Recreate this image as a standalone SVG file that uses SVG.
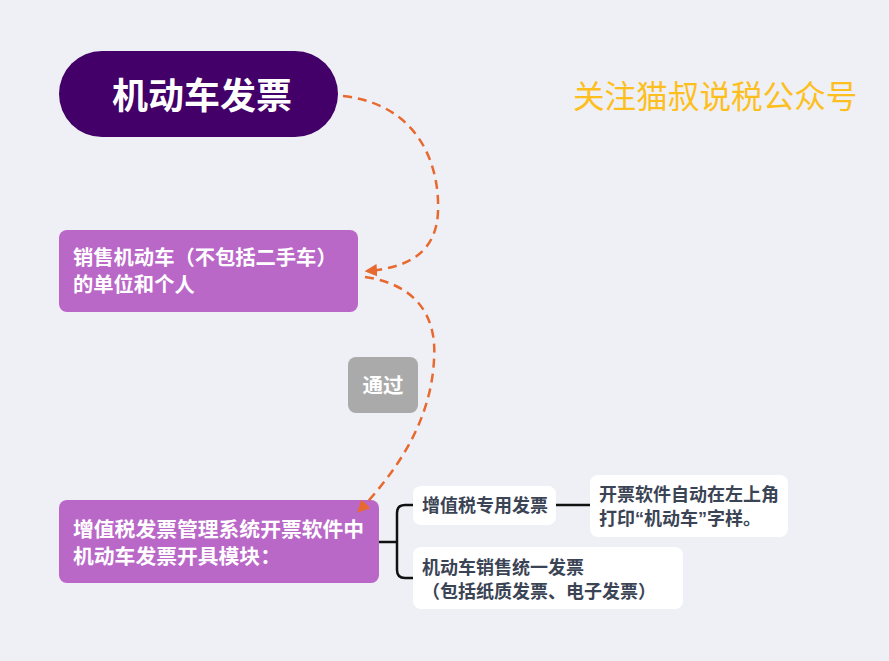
<svg xmlns="http://www.w3.org/2000/svg" width="889" height="661" viewBox="0 0 889 661">
<defs>
<style>
.t{font-family:"Noto Sans CJK SC","Noto Sans",sans-serif;font-weight:bold;}
.w{fill:#FFFFFF;}
.d{fill:#3B4455;}
.leaf{fill:#FFFFFF;}
.purple{fill:#BA68C8;}
.q{font-family:"Liberation Sans",Arial,sans-serif;}
.dash{fill:none;stroke:#E8692F;stroke-width:2.5;stroke-dasharray:9 6;marker-end:url(#ah);}
.br{fill:none;stroke:#111111;stroke-width:2.5;}
</style>
<marker id="ah" viewBox="0 0 10 10" refX="8" refY="5" markerWidth="5" markerHeight="5" orient="auto" markerUnits="strokeWidth">
<path d="M0,0 L10,5 L0,10 z" fill="#E8692F"/>
</marker>
</defs>
<rect width="889" height="661" fill="#EFF0F5"/>
<text x="573" y="108" font-family="'Noto Sans CJK SC',sans-serif" font-size="31.6" fill="#FDBF1E">关注猫叔说税公众号</text>
<g id="root">
<rect x="59" y="51" width="279" height="86" rx="43" fill="#420068"/>
<text class="t w" x="202" y="109" font-size="36" text-anchor="middle">机动车发票</text>
</g>
<g id="seller">
<rect class="purple" x="59" y="230" width="299" height="82" rx="8"/>
<text class="t w" font-size="20.3"><tspan x="73" y="265">销售机动车（不包括二手车）</tspan><tspan x="73" y="292">的单位和个人</tspan></text>
</g>
<g id="pass">
<rect x="348" y="357" width="70" height="56" rx="8" fill="#AAAAAA"/>
<text class="t w" x="383" y="393" font-size="20.5" text-anchor="middle">通过</text>
</g>
<g id="module">
<rect class="purple" x="59" y="500" width="320" height="83" rx="8"/>
<text class="t w" font-size="20.8"><tspan x="73" y="537">增值税发票管理系统开票软件中</tspan><tspan x="73" y="564">机动车发票开具模块：</tspan></text>
</g>
<g id="vat-special">
<rect class="leaf" x="413" y="486" width="143" height="39" rx="8"/>
<text class="t d" x="422" y="512" font-size="18">增值税专用发票</text>
</g>
<g id="print-note">
<rect class="leaf" x="590" y="475" width="198" height="62" rx="8"/>
<text class="t d" font-size="18"><tspan x="599" y="501">开票软件自动在左上角</tspan><tspan x="599" y="525">打印<tspan class="q">“</tspan>机动车<tspan class="q">”</tspan>字样。</tspan></text>
</g>
<g id="unified">
<rect class="leaf" x="413" y="547" width="270" height="62" rx="8"/>
<text class="t d" font-size="18"><tspan x="422" y="574">机动车销售统一发票</tspan><tspan x="422" y="598">（包括纸质发票、电子发票）</tspan></text>
</g>
<g id="connectors">
<path class="dash" d="M343,96 C415,104 440,160 438,212 C436,255 405,268 367,271"/>
<path class="dash" d="M365,277 C420,285 437,320 434,360 C431,420 398,470 359,511"/>
<path class="br" d="M379,542 L397,542 M413,505 L405,505 Q397,505 397,513 L397,570 Q397,578 405,578 L413,578"/>
<path class="br" d="M556,505 L590,505"/>
</g>
</svg>
